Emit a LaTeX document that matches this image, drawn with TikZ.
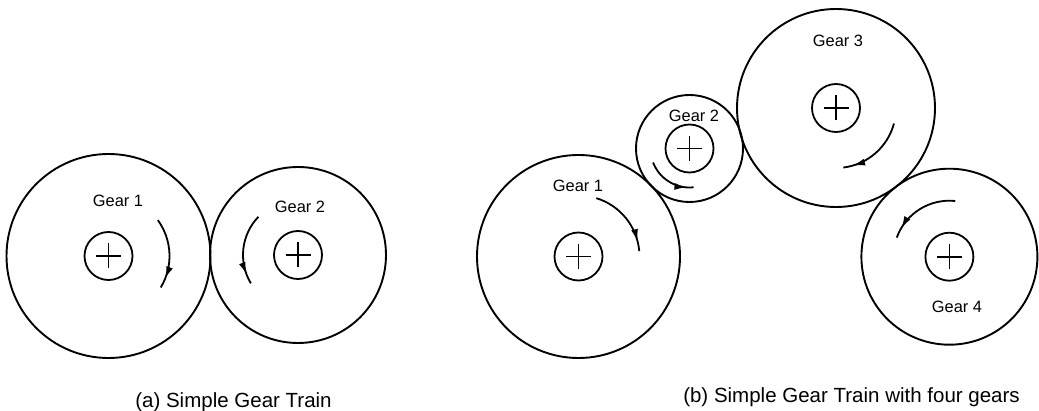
\documentclass[tikz,border=0pt]{standalone}
\usepackage{fontspec}
\setmainfont{Liberation Sans}
\usetikzlibrary{arrows.meta,decorations.markings}

\begin{document}
\begin{tikzpicture}[x=1pt,y=1pt,
  gear/.style={circle,draw,line width=1.9pt,inner sep=0pt,minimum size=#1},
  hub/.style={circle,draw,line width=1.8pt,inner sep=0pt,minimum size=48pt},
  gearname/.style={anchor=base,font=\fontsize{16.4}{18}\selectfont,inner sep=0pt},
  caption/.style={anchor=base,font=\fontsize{20.5}{23}\selectfont,inner sep=0pt},
  spin/.style={line width=1.8pt,postaction={decorate},
    decoration={markings,mark=at position 0.86 with {\arrow{Latex[length=12pt,width=7pt]}}}}]
\useasboundingbox (0,0) rectangle (1039,410);

% axle hub with a cross on it
\newcommand{\hubat}[2]{%
  \node[hub] (#1) at (#2) {};
  \draw[line width=1.8pt] ([xshift=-12.5pt]#1.center) -- ([xshift=12.5pt]#1.center);
  \draw[line width=1.8pt] ([yshift=-12.5pt]#1.center) -- ([yshift=12.5pt]#1.center);
}

% ---------- (a) simple gear train ----------
\node[gear=204pt] (ga1) at (108.5,154) {};
\node[gear=176pt] (ga2) at (298,155) {};
\hubat{ha1}{108.5,154}
\hubat{ha2}{298,155}
\node[gearname] (la1) at (118,203) {Gear 1};
\node[gearname] (la2) at (300,197) {Gear 2};
\draw[spin] ([shift={(36:61)}]ha1.center) arc[start angle=36,end angle=-31,radius=61];
\draw[spin] ([shift={(136:55)}]ha2.center) arc[start angle=136,end angle=211,radius=55];
\node[caption] (capa) at (233.5,3) {(a) Simple Gear Train};

% ---------- (b) gear train with four gears ----------
\node[gear=203pt] (gb1) at (578.5,153.5) {};
\node[gear=107pt] (gb2) at (689.5,261.5) {};
\node[gear=198pt] (gb3) at (836,302) {};
\node[gear=176pt] (gb4) at (949.4,153.3) {};
\hubat{hb1}{578.5,153.5}
\hubat{hb2}{689.5,261.5}
\hubat{hb3}{836,302}
\hubat{hb4}{949.4,153.3}
\node[gearname] (lb1) at (578,218) {Gear 1};
\node[gearname] (lb2) at (694,288) {Gear 2};
\node[gearname] (lb3) at (838,363) {Gear 3};
\node[gearname] (lb4) at (957,97) {Gear 4};
\draw[spin] ([shift={(73:61)}]hb1.center) arc[start angle=73,end angle=5,radius=61];
\draw[spin] ([shift={(201:39)}]hb2.center) arc[start angle=201,end angle=276,radius=39];
\draw[spin] ([shift={(-15:60)}]hb3.center) arc[start angle=-15,end angle=-83,radius=60];
\draw[spin] ([shift={(84:56)}]hb4.center) arc[start angle=84,end angle=160,radius=56];
\node[caption] (capb) at (851.5,8) {(b) Simple Gear Train with four gears};
\end{tikzpicture}
\end{document}
